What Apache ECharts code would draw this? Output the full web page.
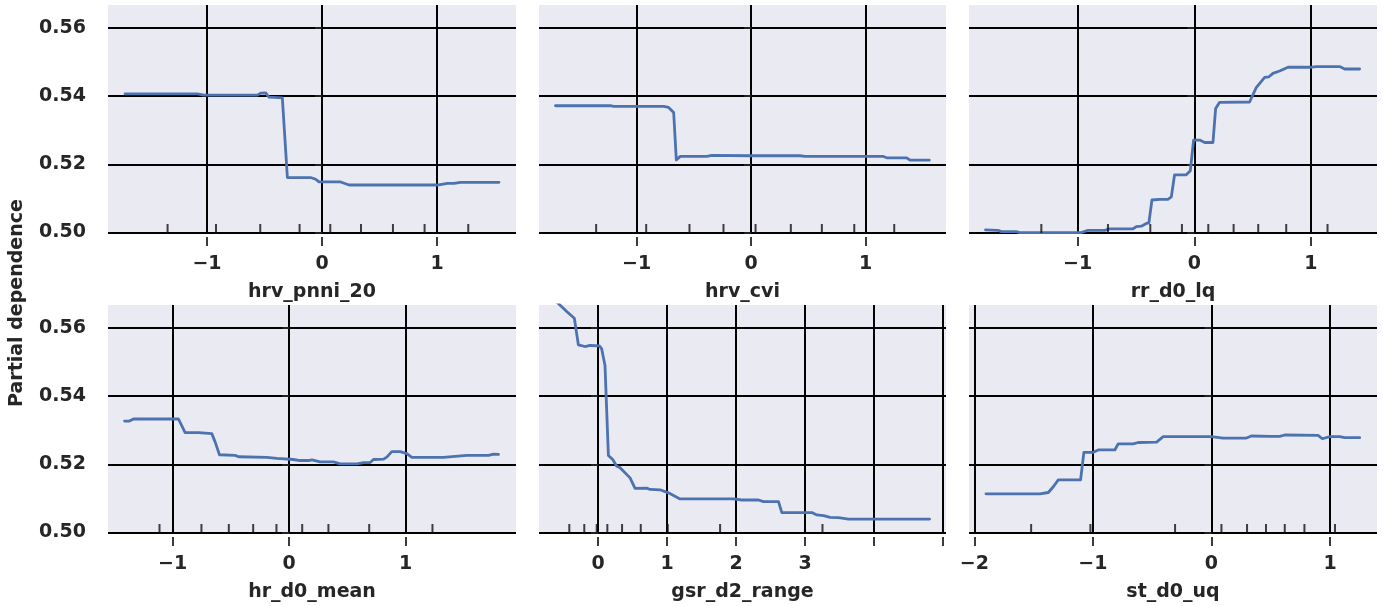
<!DOCTYPE html>
<html>
<head>
<meta charset="utf-8">
<script src="https://cdn.jsdelivr.net/npm/echarts@6/dist/echarts.min.js"></script>
<style>
html,body{margin:0;padding:0;background:#fff;}
#chart{width:1387px;height:606px;}
</style>
</head>
<body>
<div id="chart"></div>
<script>
// ---- data ----
const featureNames = ['hrv_pnni_20', 'hrv_cvi', 'rr_d0_lq', 'hr_d0_mean', 'gsr_d2_range', 'st_d0_uq'];

const hrvPnni20X = [-1.713,-1.084,-1.026,-0.562,-0.533,-0.490,-0.461,-0.345,-0.330,-0.301,-0.099,-0.055,-0.026,0.162,0.235,1.003,1.090,1.148,1.206,1.539];
const hrvPnni20Y = [0.5407,0.5407,0.5403,0.5403,0.5409,0.5410,0.5397,0.5395,0.5390,0.5161,0.5161,0.5156,0.5148,0.5148,0.5139,0.5139,0.5144,0.5144,0.5147,0.5147];
const hrvPnni20Deciles = [-1.343,-0.922,-0.537,-0.195,0.072,0.339,0.617,0.892,1.272];

const hrvCviX = [-1.709,-1.230,-1.201,-0.765,-0.721,-0.677,-0.654,-0.619,-0.387,-0.343,-0.009,0.427,0.471,1.154,1.183,1.358,1.387,1.555];
const hrvCviY = [0.5372,0.5372,0.5370,0.5370,0.5367,0.5352,0.5213,0.5223,0.5223,0.5226,0.5225,0.5225,0.5223,0.5223,0.5219,0.5219,0.5212,0.5212];
const hrvCviDeciles = [-1.354,-0.917,-0.539,-0.242,0.038,0.346,0.617,0.900,1.249];

const rrD0LqX = [-1.789,-1.683,-1.654,-1.526,-1.497,-0.969,-0.911,-0.769,-0.726,-0.526,-0.497,-0.454,-0.411,-0.389,-0.363,-0.297,-0.226,-0.197,-0.169,-0.069,-0.034,-0.006,0.046,0.089,0.160,0.183,0.217,0.474,0.531,0.603,0.640,0.674,0.731,0.803,0.989,1.046,1.246,1.289,1.417];
const rrD0LqY = [0.5007,0.5006,0.5002,0.5002,0.4999,0.4999,0.5006,0.5006,0.5010,0.5010,0.5017,0.5018,0.5026,0.5028,0.5095,0.5097,0.5097,0.5104,0.5169,0.5169,0.5181,0.5271,0.5271,0.5264,0.5264,0.5364,0.5382,0.5383,0.5425,0.5455,0.5457,0.5467,0.5474,0.5485,0.5485,0.5487,0.5487,0.5480,0.5480];
const rrD0LqDeciles = [-1.311,-0.740,-0.377,-0.106,0.120,0.337,0.548,0.788,1.142];

const hrD0MeanX = [-1.413,-1.371,-1.336,-0.950,-0.893,-0.778,-0.764,-0.664,-0.635,-0.598,-0.464,-0.435,-0.192,-0.106,-0.092,0.037,0.094,0.166,0.195,0.266,0.381,0.438,0.581,0.638,0.695,0.724,0.810,0.838,0.881,0.953,1.010,1.053,1.325,1.525,1.711,1.754,1.797];
const hrD0MeanY = [0.5327,0.5327,0.5333,0.5333,0.5293,0.5293,0.5290,0.5290,0.5265,0.5228,0.5226,0.5222,0.5220,0.5217,0.5214,0.5214,0.5211,0.5211,0.5213,0.5207,0.5207,0.5201,0.5201,0.5205,0.5205,0.5214,0.5215,0.5221,0.5237,0.5237,0.5231,0.5220,0.5220,0.5226,0.5226,0.5230,0.5229];
const hrD0MeanDeciles = [-1.113,-0.753,-0.518,-0.309,-0.109,0.112,0.337,0.687,1.230];

const gsrD2RangeX = [-0.640,-0.454,-0.343,-0.285,-0.188,-0.116,0.019,0.053,0.101,0.150,0.213,0.271,0.319,0.464,0.536,0.705,0.754,0.899,1.019,1.188,1.961,2.082,2.324,2.396,2.614,2.662,3.097,3.169,3.266,3.362,3.483,3.628,4.802];
const gsrD2RangeY = [0.5685,0.5649,0.5629,0.5551,0.5546,0.5549,0.5548,0.5539,0.5490,0.5226,0.5214,0.5194,0.5190,0.5160,0.5129,0.5130,0.5126,0.5125,0.5116,0.5098,0.5098,0.5095,0.5095,0.5090,0.5090,0.5058,0.5058,0.5051,0.5049,0.5044,0.5043,0.5039,0.5039];
const gsrD2RangeDeciles = [-0.416,-0.199,-0.019,0.135,0.348,0.619,1.010,1.768,3.251];

const stD0UqX = [-1.902,-1.447,-1.376,-1.334,-1.292,-1.104,-1.076,-0.997,-0.955,-0.815,-0.787,-0.660,-0.618,-0.463,-0.407,0.000,0.098,0.295,0.337,0.492,0.576,0.618,0.899,0.935,0.997,1.081,1.124,1.250];
const stD0UqY = [0.5113,0.5113,0.5117,0.5134,0.5154,0.5154,0.5235,0.5235,0.5242,0.5242,0.5260,0.5260,0.5264,0.5265,0.5281,0.5281,0.5277,0.5277,0.5283,0.5282,0.5282,0.5286,0.5285,0.5275,0.5281,0.5281,0.5278,0.5278];
const stD0UqDeciles = [-1.521,-1.021,-0.307,0.084,0.300,0.460,0.618,0.784,1.042];

const xTicksDefault = [-1, 0, 1];
const xTicksGsr = [0, 1, 2, 3, 4, 5];
const xLabelsGsr = [0, 1, 2, 3];
const xTicksSt = [-2, -1, 0, 1];
const yTicks = [0.50, 0.52, 0.54, 0.56];
const yLabel = 'Partial dependence';

// ---- layout / style ----
const yMin = 0.4998, yMax = 0.5668;
const xRanges = [[-1.861,1.687],[-1.853,1.701],[-1.931,1.566],[-1.555,1.947],[-0.855,5.04],[-2.045,1.396]];
const panels = [
  {x: hrvPnni20X, y: hrvPnni20Y, d: hrvPnni20Deciles, ticks: xTicksDefault, labels: xTicksDefault},
  {x: hrvCviX, y: hrvCviY, d: hrvCviDeciles, ticks: xTicksDefault, labels: xTicksDefault},
  {x: rrD0LqX, y: rrD0LqY, d: rrD0LqDeciles, ticks: xTicksDefault, labels: xTicksDefault},
  {x: hrD0MeanX, y: hrD0MeanY, d: hrD0MeanDeciles, ticks: xTicksDefault, labels: xTicksDefault},
  {x: gsrD2RangeX, y: gsrD2RangeY, d: gsrD2RangeDeciles, ticks: xTicksGsr, labels: xLabelsGsr},
  {x: stD0UqX, y: stD0UqY, d: stD0UqDeciles, ticks: xTicksSt, labels: xTicksSt}
];
const lefts = [108, 539, 969];
const widths = [408, 407, 408];
const tops = [5, 305];
const H = 228;
const FONT = 'DejaVu Sans';
const TXT = '#262626';
const FS = 19;

function fmt(v){ return v < 0 ? '\u2212' + Math.abs(v) : String(v); }

const grid = [], xAxis = [], yAxis = [], series = [];
panels.forEach((p, i) => {
  const r = Math.floor(i / 3), c = i % 3;
  grid.push({left: lefts[c], top: tops[r], width: widths[c], height: H,
    show: true, backgroundColor: '#eaeaf2', borderWidth: 0, containLabel: false});
  xAxis.push({
    type: 'value', gridIndex: i, min: xRanges[i][0], max: xRanges[i][1],
    offset: 4,
    name: featureNames[i], nameLocation: 'middle', nameGap: 46,
    nameTextStyle: {fontFamily: FONT, fontWeight: 'bold', fontSize: FS, color: TXT},
    axisLine: {show: false},
    axisTick: {show: true, inside: false, length: 9, customValues: p.ticks,
      lineStyle: {color: TXT, width: 1.8}},
    axisLabel: {show: true, customValues: p.labels, margin: 18, formatter: fmt,
      fontFamily: FONT, fontWeight: 'bold', fontSize: FS, color: TXT},
    splitLine: {show: true, lineStyle: {color: '#000', width: 2}}
  });
  yAxis.push({
    type: 'value', gridIndex: i, min: yMin, max: yMax,
    offset: 5,
    axisLine: {show: false},
    axisTick: {show: true, inside: false, length: 7, customValues: yTicks,
      lineStyle: {color: TXT, width: 1.8}},
    axisLabel: {show: c === 0, customValues: yTicks, margin: 17,
      formatter: v => v.toFixed(2),
      fontFamily: FONT, fontWeight: 'bold', fontSize: FS, color: TXT},
    splitLine: {show: true, lineStyle: {color: '#000', width: 2}}
  });
  series.push({
    type: 'line', xAxisIndex: i, yAxisIndex: i,
    data: p.x.map((v, k) => [v, p.y[k]]),
    showSymbol: false, symbol: 'none', clip: true, z: 3,
    lineStyle: {color: '#4c72b0', width: 2.8, cap: 'round', join: 'round'},
    animation: false
  });
  series.push({
    type: 'scatter', xAxisIndex: i, yAxisIndex: i,
    data: p.d.map(v => [v, yMin]),
    symbol: 'rect', symbolSize: [2, 9], symbolOffset: [0, -4.5],
    itemStyle: {color: '#111'}, z: 4, silent: true, animation: false
  });
});

const chart = echarts.init(document.getElementById('chart'), null, {renderer: 'canvas'});
chart.setOption({
  animation: false,
  backgroundColor: '#ffffff',
  grid, xAxis, yAxis, series,
  graphic: [{
    type: 'text', x: 17, y: 303, rotation: Math.PI / 2,
    style: {text: yLabel, fontFamily: FONT, fontWeight: 'bold', fontSize: FS,
      fill: TXT, align: 'center', verticalAlign: 'middle'}
  }]
});
</script>
</body>
</html>
